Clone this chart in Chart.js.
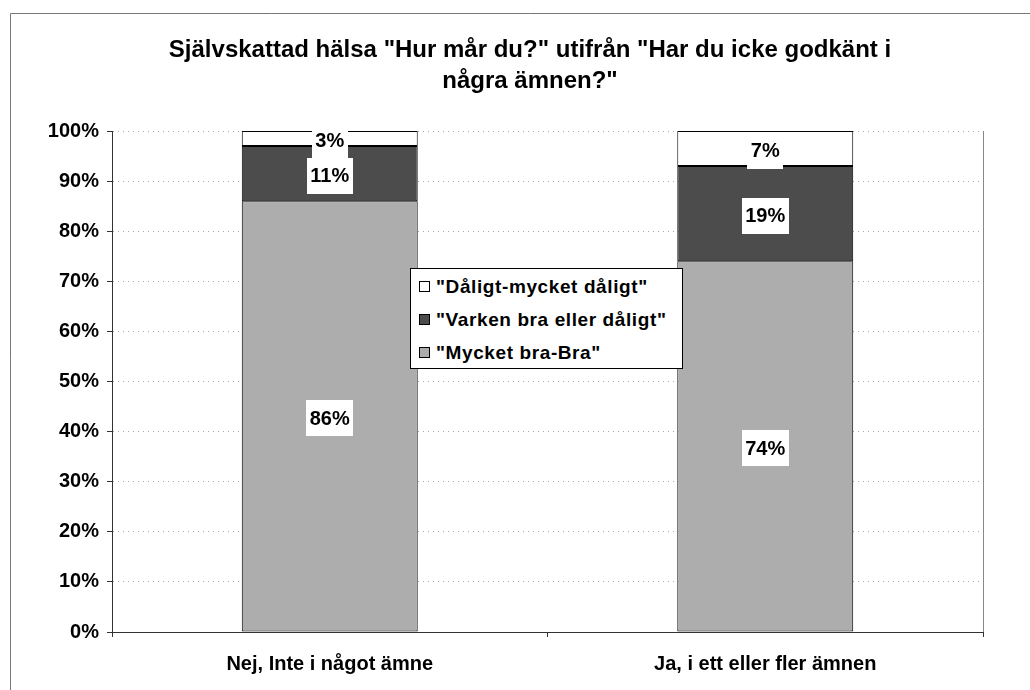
<!DOCTYPE html>
<html>
<head>
<meta charset="utf-8">
<script src="https://cdn.jsdelivr.net/npm/chart.js@4.4.1/dist/chart.umd.min.js"></script>
<style>
  html, body { margin: 0; padding: 0; background: #fff; overflow: hidden; }
  #wrap { position: absolute; left: 10px; top: 13px; width: 1040px; height: 690px; }
  #legend {
    position: absolute; left: 410px; top: 268px; width: 271px; height: 99px;
    border: 1px solid #000; background: #fff;
    font: bold 19px "Liberation Sans", Arial, sans-serif; color: #000;
  }
  #legend .row { position: absolute; left: 8px; height: 22px; line-height: 22px; white-space: nowrap; letter-spacing: 0.6px; }
  #legend .box { display: inline-block; width: 9px; height: 9px; border: 1px solid #000; margin-right: 6px; vertical-align: 1px; }
</style>
</head>
<body>
<div id="wrap"><canvas id="healthChart" width="1040" height="690"></canvas></div>
<div id="legend"></div>
<script>
// Data
const categories = ['Nej, Inte i något ämne', 'Ja, i ett eller fler ämnen'];
const seriesNames = ['"Mycket bra-Bra"', '"Varken bra eller dåligt"', '"Dåligt-mycket dåligt"'];
const mycketBra = [86, 74];
const varken = [11, 19];
const daligt = [3, 7];
const seriesColors = ['#adadad', '#4c4c4c', '#ffffff'];
const yTicks = [0, 10, 20, 30, 40, 50, 60, 70, 80, 90, 100];

const FONT = '"Liberation Sans", Arial, sans-serif';

// outer frame + plot area right border
const framePlugin = {
    id: 'frame',
    beforeDraw(chart) {
        const ctx = chart.ctx;
        ctx.save();
        ctx.strokeStyle = '#777';
        ctx.lineWidth = 1;
        ctx.beginPath();
        ctx.moveTo(0.5, chart.height);
        ctx.lineTo(0.5, 0.5);
        ctx.lineTo(chart.width, 0.5);
        ctx.stroke();
        ctx.restore();
    },
    afterDraw(chart) {
        const a = chart.chartArea;
        const ctx = chart.ctx;
        ctx.save();
        ctx.strokeStyle = '#888';
        ctx.lineWidth = 1;
        ctx.beginPath();
        ctx.moveTo(Math.round(a.right) + 0.5, a.top);
        ctx.lineTo(Math.round(a.right) + 0.5, a.bottom);
        ctx.stroke();
        ctx.restore();
    }
};

// white boxed value labels in each segment
const labelPlugin = {
    id: 'segLabels',
    afterDatasetsDraw(chart) {
        const ctx = chart.ctx;
        ctx.save();
        ctx.font = 'bold 20px ' + FONT;
        ctx.textAlign = 'center';
        ctx.textBaseline = 'middle';
        chart.data.datasets.forEach((ds, i) => {
            chart.getDatasetMeta(i).data.forEach((bar, j) => {
                const txt = ds.data[j] + '%';
                const cx = bar.x;
                const cy = (bar.y + bar.base) / 2 + 2;
                const w = ctx.measureText(txt).width + 7;
                const h = 36;
                ctx.fillStyle = '#fff';
                ctx.fillRect(Math.round(cx - w / 2), Math.round(cy - h / 2), Math.round(w), h);
                ctx.fillStyle = '#000';
                ctx.fillText(txt, cx, cy + 1);
            });
        });
        ctx.restore();
    }
};

const datasets = [mycketBra, varken, daligt].map((vals, i) => ({
    label: seriesNames[i],
    data: vals,
    backgroundColor: seriesColors[i],
    borderColor: '#000',
    borderWidth: 1,
    borderSkipped: false,
    barPercentage: 0.404,
    categoryPercentage: 1.0
}));

const ctx = document.getElementById('healthChart').getContext('2d');
const healthChart = new Chart(ctx, {
    type: 'bar',
    data: { labels: categories, datasets: datasets },
    options: {
        responsive: false,
        animation: false,
        layout: { padding: { left: 0, right: 0, top: 0, bottom: 21 } },
        plugins: {
            legend: { display: false },
            tooltip: { enabled: false },
            title: {
                display: true,
                text: ['Självskattad hälsa "Hur mår du?" utifrån "Har du icke godkänt i', 'några ämnen?"'],
                color: '#000',
                font: { family: FONT, size: 24, weight: 'bold', lineHeight: '31px' },
                padding: { top: 22, bottom: 34 }
            }
        },
        scales: {
            x: {
                stacked: true,
                offset: true,
                afterFit(scale) { scale.height = 50; },
                border: { color: '#333', width: 1 },
                grid: { display: true, offset: true, drawOnChartArea: false, tickLength: 5, tickColor: '#333' },
                ticks: { color: '#000', padding: 15, font: { family: FONT, size: 20, weight: 'bold' } }
            },
            y: {
                stacked: true,
                min: 0,
                max: 100,
                afterFit(scale) { scale.width = 102; },
                afterBuildTicks(scale) { scale.ticks = yTicks.map(v => ({ value: v })); },
                border: { color: '#333', width: 1, dash: [1, 4] },
                grid: {
                    color: '#a8a8a8',
                    tickLength: 5,
                    tickColor: '#333',
                    tickBorderDash: []
                },
                ticks: {
                    color: '#000',
                    padding: 8,
                    font: { family: FONT, size: 20, weight: 'bold' },
                    callback: v => v + '%'
                }
            },
            // empty spacer on the right so the title is centred on the frame
            spacer: {
                type: 'linear',
                position: 'right',
                display: true,
                afterFit(scale) { scale.width = 67; },
                border: { display: false },
                grid: { display: false },
                ticks: { display: false }
            }
        }
    },
    plugins: [framePlugin, labelPlugin]
});

// legend inside the plot, top entry = last stacked series
const legendEl = document.getElementById('legend');
healthChart.data.datasets.slice().reverse().forEach((ds, k) => {
    const row = document.createElement('div');
    row.className = 'row';
    row.style.top = (7 + k * 33) + 'px';
    const box = document.createElement('span');
    box.className = 'box';
    box.style.background = ds.backgroundColor;
    row.appendChild(box);
    row.appendChild(document.createTextNode(ds.label));
    legendEl.appendChild(row);
});
</script>
</body>
</html>
